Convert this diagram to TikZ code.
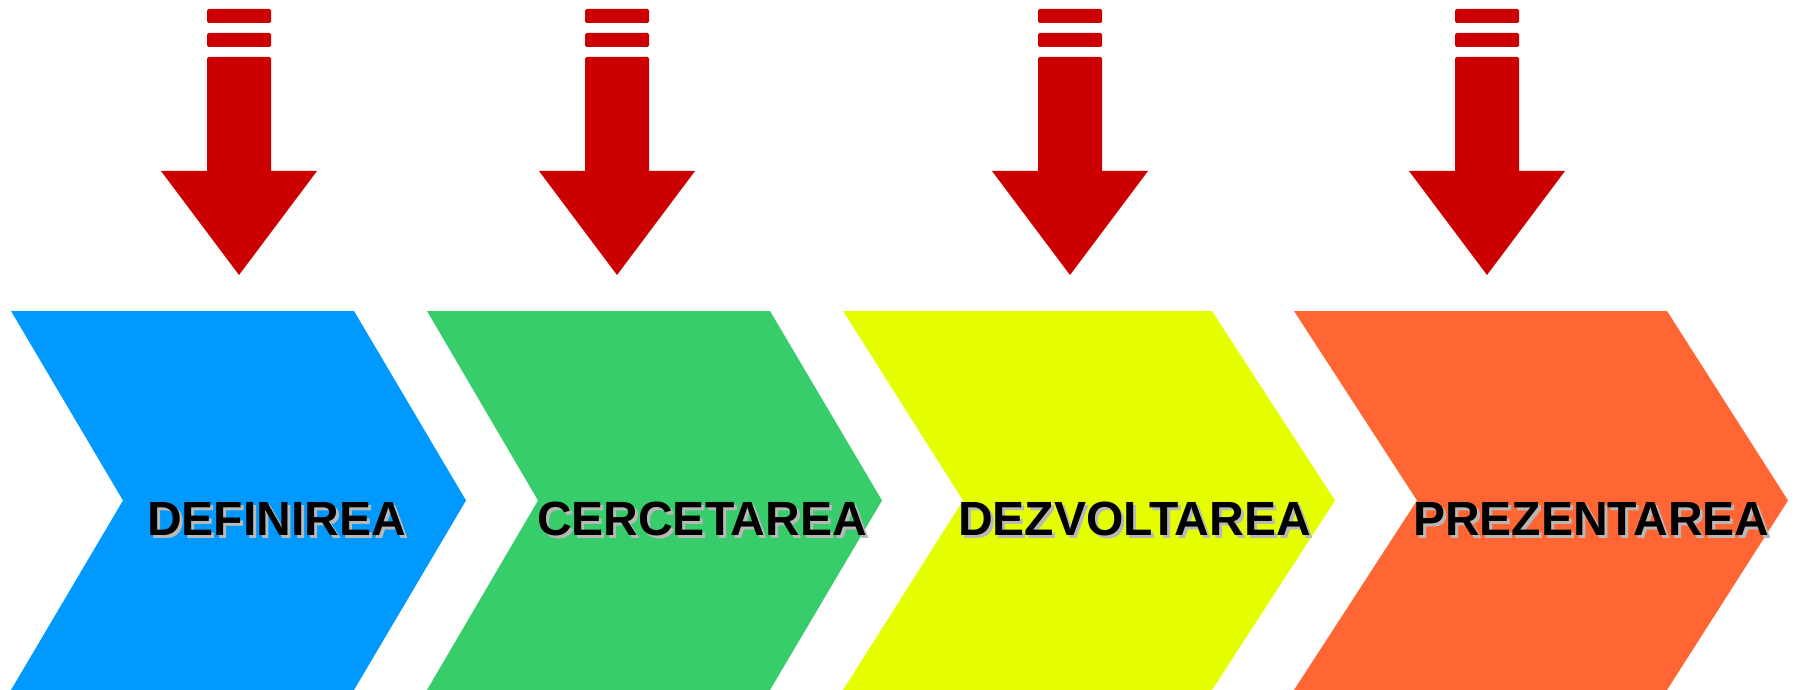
\documentclass[tikz,border=0pt]{standalone}
\usepackage{fontspec}
\setmainfont{Liberation Sans}
\definecolor{cblue}{HTML}{0099FF}
\definecolor{cgreen}{HTML}{36CD6A}
\definecolor{cyellow}{HTML}{E5FF00}
\definecolor{corange}{HTML}{FF6633}
\definecolor{cred}{HTML}{CC0000}
\definecolor{cshadow}{HTML}{B8B8B8}
\newcommand{\shadowtext}[1]{\makebox[0pt][l]{\hspace{3pt}\raisebox{-3.5pt}{\textcolor{cshadow}{#1}}}#1}
\tikzset{
  chevron/.style={draw=none},
  redbar/.style={fill=cred, draw=none, rounded corners=1.5},
  redarrow/.style={fill=cred, draw=none},
  steplabel/.style={anchor=base west, inner sep=0pt, outer sep=0pt,
    font=\fontsize{48}{48}\selectfont\bfseries, text=black}
}
\newcommand{\downarrowmark}[1]{%
  \fill[redbar] (#1-32,9) rectangle (#1+32,23);
  \fill[redbar] (#1-32,33) rectangle (#1+32,47);
  \fill[redarrow] (#1-32,171) [rounded corners=1.5] -- (#1-32,57) -- (#1+32,57) [sharp corners] -- (#1+32,171)
     -- (#1+78,171) -- (#1,275) -- (#1-78,171) -- cycle;
}
\begin{document}
\begin{tikzpicture}[x=1pt,y=-1pt]
\useasboundingbox (0,0) rectangle (1797,690);
% chevrons
\fill[cblue, chevron] (11,311) -- (354,311) -- (466,500.5) -- (354,690) -- (11,690) -- (123,500.5) -- cycle;
\fill[cgreen, chevron] (427,311) -- (770,311) -- (882,500.5) -- (770,690) -- (427,690) -- (538,500.5) -- cycle;
\fill[cyellow, chevron] (843,311) -- (1212,311) -- (1335,500.5) -- (1212,690) -- (843,690) -- (963,500.5) -- cycle;
\fill[corange, chevron] (1294,311) -- (1667,311) -- (1788,500.5) -- (1667,690) -- (1294,690) -- (1417,500.5) -- cycle;
% arrows
\downarrowmark{239}
\downarrowmark{617}
\downarrowmark{1070}
\downarrowmark{1487}
% labels
\node[steplabel] (l1) at (147,535) {\shadowtext{DEFINIREA}};
\node[steplabel] (l2) at (537,535) {\shadowtext{CERCETAREA}};
\node[steplabel] (l3) at (958,535) {\shadowtext{DEZVOLTAREA}};
\node[steplabel] (l4) at (1413,535) {\shadowtext{PREZENTAREA}};
\end{tikzpicture}
\end{document}
